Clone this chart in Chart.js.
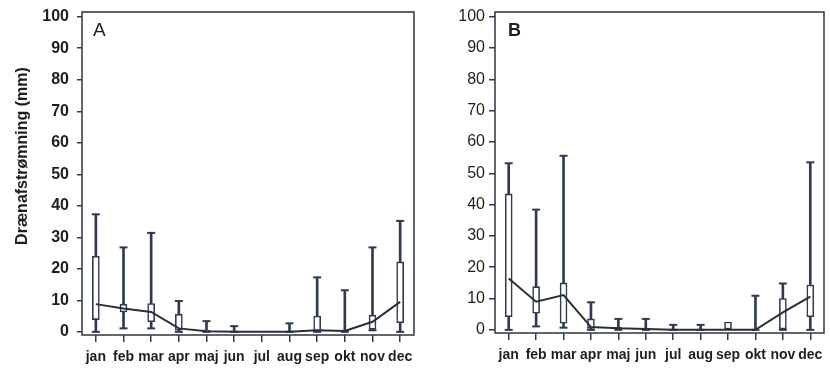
<!DOCTYPE html>
<html><head><meta charset="utf-8">
<script src="https://cdn.jsdelivr.net/npm/chart.js@4/dist/chart.umd.min.js"></script>
<style>
body{margin:0;background:#fff;width:830px;height:368px;overflow:hidden;position:relative}
.c{position:absolute;top:0;height:368px}
#wa{left:0;width:420px}
#wb{left:420px;width:410px}
</style></head><body>
<div class="c" id="wa"><canvas id="ca" width="420" height="368"></canvas></div>
<div class="c" id="wb"><canvas id="cb" width="410" height="368"></canvas></div>
<script>
const months = ['jan','feb','mar','apr','maj','jun','jul','aug','sep','okt','nov','dec'];
const yTicks = [0,10,20,30,40,50,60,70,80,90,100];
const yTitle = 'Drænafstrømning (mm)';

// Panel A
const aMin  = [0, 1.1, 1.1, 0, 0, 0, null, 0, 0, 0, 0.5, 0];
const aQ1   = [3.9, 6.3, 3.2, 0.5, 0, 0, null, null, 0.2, 0, 0.8, 2.9];
const aQ3   = [24, 8.8, 9, 5.6, 0.6, 0.3, null, null, 5, 0.4, 5.3, 22.2];
const aMax  = [37.3, 26.8, 31.4, 9.8, 3.4, 1.8, null, 2.7, 17.3, 13.2, 26.8, 35.2];
const aLine = [8.8, 7.4, 6.3, 1.1, 0.2, 0, 0, 0, 0.5, 0.3, 3.2, 9.5];

// Panel B
const bMin  = [0, 1.1, 0.7, 0, 0, 0, 0, 0, null, 0, 0, 0];
const bQ1   = [4.2, 5.3, 2.1, 0.5, 0, 0, null, null, 0, null, 0, 4.2];
const bQ3   = [43.4, 13.8, 15, 3.5, 0.8, 0.6, null, null, 2.5, null, 10, 14.3];
const bMax  = [53.2, 38.4, 55.6, 8.8, 3.5, 3.5, 1.6, 1.6, null, 10.9, 14.8, 53.5];
const bLine = [16.4, 9, 11.1, 0.9, 0.5, 0.3, 0, 0, 0, 0, 5.6, 10.6];

const FONT = '"Liberation Sans", Arial, sans-serif';
const DARK = '#2f3a50';
const FRAME = '#3a404c';
const LINE = '#2a2e38';
const TXT = '#1e1e1e';

const decor = {
  id: 'decor',
  afterDraw(chart, args, o) {
    const {ctx, chartArea: a} = chart;
    ctx.save();
    ctx.strokeStyle = FRAME; ctx.lineWidth = 1.6;
    ctx.strokeRect(a.left, a.top, a.right - a.left, a.bottom - a.top);
    ctx.fillStyle = TXT;
    ctx.font = o.letterFont;
    ctx.textAlign = 'left'; ctx.textBaseline = 'alphabetic';
    ctx.fillText(o.letter, a.left + o.lx, a.top + o.ly);
    if (o.ytitle) {
      ctx.translate(o.tx, o.ty);
      ctx.rotate(-Math.PI / 2);
      ctx.textAlign = 'center'; ctx.textBaseline = 'middle';
      ctx.font = 'bold 16px ' + FONT;
      ctx.fillText(o.ytitle, 0, 0);
    }
    ctx.restore();
  }
};

function makeChart(id, c) {
  const whisk = c.min.map((v, i) => (v == null || c.max[i] == null) ? null : [v, c.max[i]]);
  const box = c.q1.map((v, i) => (v == null || c.q3[i] == null) ? null : [v, c.q3[i]]);
  return new Chart(document.getElementById(id), {
    type: 'bar',
    data: {
      labels: months,
      datasets: [
        {type: 'line', data: c.line, borderColor: LINE, borderWidth: 2, pointRadius: 0, tension: 0, order: 0},
        {type: 'line', data: c.max, showLine: false, pointStyle: 'line', pointRadius: 4, borderColor: DARK, pointBorderColor: DARK, pointBorderWidth: 2, order: 1},
        {type: 'line', data: c.min, showLine: false, pointStyle: 'line', pointRadius: 4, borderColor: DARK, pointBorderColor: DARK, pointBorderWidth: 2, order: 1},
        {type: 'bar', data: box, barThickness: 7, backgroundColor: '#ffffff', borderColor: DARK, borderWidth: 1.6, borderSkipped: false, grouped: false, order: 2},
        {type: 'bar', data: whisk, barThickness: 2, backgroundColor: DARK, borderWidth: 0, grouped: false, order: 3}
      ]
    },
    options: {
      responsive: false,
      animation: false,
      devicePixelRatio: 1,
      layout: {padding: {left: 0, right: c.padR, top: 12, bottom: 0}},
      plugins: {
        legend: {display: false},
        tooltip: {enabled: false},
        decor: c.decor
      },
      scales: {
        x: {
          type: 'category',
          offset: true,
          border: {display: false},
          grid: {display: true, offset: false, drawOnChartArea: false, drawTicks: true, tickLength: 7, color: DARK, lineWidth: 1.5},
          ticks: {font: {family: FONT, size: 14, weight: 'bold'}, color: TXT, padding: 7, maxRotation: 0, autoSkip: false},
          afterFit: s => { s.height = c.xh; s.paddingLeft = 0; s.paddingRight = 0; }
        },
        y: {
          min: -1, max: 101.5,
          border: {display: false},
          afterBuildTicks: s => { s.ticks = yTicks.map(v => ({value: v})); },
          grid: {display: true, drawOnChartArea: false, drawTicks: true, tickLength: c.ytl, color: DARK, lineWidth: 1.5},
          ticks: {font: {family: FONT, size: 16, weight: c.yWeight}, color: TXT, padding: c.ypad},
          afterFit: s => { s.width = c.yw; s.paddingTop = 0; s.paddingBottom = 0; }
        }
      }
    },
    plugins: [decor]
  });
}

makeChart('ca', {
  min: aMin, q1: aQ1, q3: aQ3, max: aMax, line: aLine,
  padR: 3, xh: 33, yw: 82, ytl: 5, ypad: 8, yWeight: 'bold',
  decor: {letter: 'A', letterFont: '19px ' + FONT, lx: 11, ly: 24, ytitle: yTitle, tx: 23, ty: 156}
});
makeChart('cb', {
  min: bMin, q1: bQ1, q3: bQ3, max: bMax, line: bLine,
  padR: 3, xh: 35, yw: 75, ytl: 6, ypad: 4, yWeight: 'normal',
  decor: {letter: 'B', letterFont: 'bold 18px ' + FONT, lx: 13, ly: 23.5}
});
</script>
</body></html>
